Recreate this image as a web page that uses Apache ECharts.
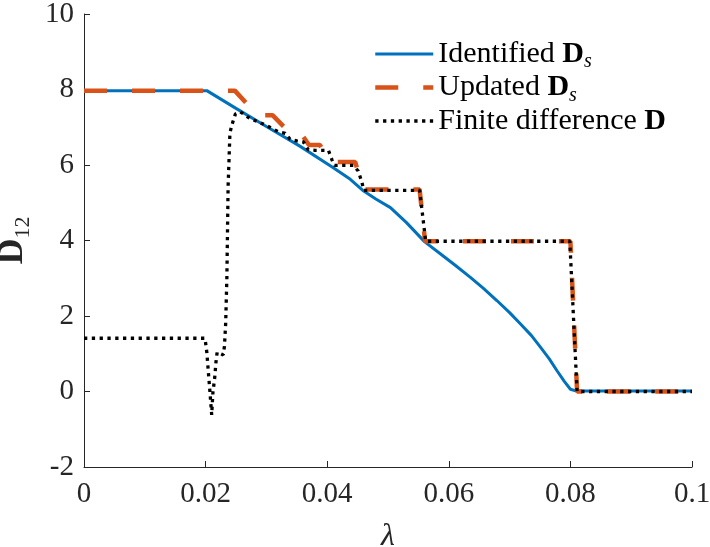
<!DOCTYPE html>
<html><head><meta charset="utf-8">
<script src="https://cdn.jsdelivr.net/npm/echarts@6/dist/echarts.min.js"></script>
<style>html,body{margin:0;padding:0;background:#fff}#c{width:710px;height:547px}</style>
</head><body><div id="c"></div>
<script>
// Identified D_s (blue)
const idLam = [0, 0.0202, 0.025, 0.030, 0.0355, 0.041, 0.0438, 0.046, 0.048, 0.0504, 0.053, 0.056, 0.0586, 0.061, 0.0635, 0.0657, 0.0679, 0.070, 0.0718, 0.0736, 0.0751, 0.0765, 0.0778, 0.079, 0.080, 0.081, 0.1];
const idVal = [7.97, 7.97, 7.50, 7.02, 6.50, 5.93, 5.62, 5.31, 5.10, 4.87, 4.48, 3.97, 3.65, 3.35, 3.03, 2.73, 2.41, 2.09, 1.79, 1.48, 1.17, 0.87, 0.55, 0.27, 0.06, 0.01, 0.01];
// Updated D_s (orange dashed)
const updLam = [0, 0.0248, 0.0285, 0.0310, 0.0337, 0.0355, 0.0370, 0.0388, 0.0405, 0.0446, 0.0460, 0.0552, 0.0561, 0.0800, 0.0811, 0.1];
const updVal = [7.97, 7.97, 7.32, 7.32, 6.88, 6.88, 6.53, 6.53, 6.08, 6.08, 5.35, 5.35, 3.98, 3.98, 0.0, 0.0];
// Finite difference D (black dotted)
const fdLam = [0, 0.0199, 0.0202, 0.0205, 0.0207, 0.0210, 0.0212, 0.0215, 0.0217, 0.0219, 0.0222, 0.0229, 0.0231, 0.0233, 0.0235, 0.0237, 0.0240, 0.0243, 0.0249, 0.0257, 0.0273, 0.0287, 0.0298, 0.0309, 0.0320, 0.0331, 0.0339, 0.0350, 0.0361, 0.0369, 0.0380, 0.0402, 0.0408, 0.0412, 0.0443, 0.0451, 0.0457, 0.0460, 0.0552, 0.0562, 0.0799, 0.0811, 0.1];
const fdVal = [1.41, 1.41, 1.04, 0.42, 0.02, -0.62, -0.03, 0.37, 0.77, 1.04, 1.08, 0.97, 1.20, 1.80, 3.03, 5.42, 6.84, 7.05, 7.35, 7.41, 7.23, 7.14, 7.06, 6.97, 6.88, 6.84, 6.68, 6.64, 6.61, 6.40, 6.39, 6.39, 6.13, 5.99, 5.99, 5.84, 5.55, 5.33, 5.33, 3.98, 3.98, 0.0, 0.0];

const seriesNames = ['Identified Ds', 'Updated Ds', 'Finite difference D'];
const legendTexts = ['{r|Identified }{b|D}{s|s}', '{r|Updated }{b|D}{s|s}', '{r|Finite difference }{b|D}'];
const xTicks = [0, 0.02, 0.04, 0.06, 0.08, 0.1];
const xTickLabels = ['0', '0.02', '0.04', '0.06', '0.08', '0.1'];
const yTicks = [-2, 0, 2, 4, 6, 8, 10];
const yTickLabels = ['-2', '0', '2', '4', '6', '8', '10'];

const FONT = 'Liberation Serif';
const AX = '#262626';
const pairs = (a, b) => a.map((v, i) => [v, b[i]]);
const lab = (ticks, labels) => v => { const i = ticks.findIndex(t => Math.abs(t - v) < 1e-9); return i >= 0 ? labels[i] : ''; };

const chart = echarts.init(document.getElementById('c'), null, {renderer: 'canvas'});
chart.setOption({
  animation: false,
  backgroundColor: '#fff',
  grid: {left: 84, right: 18, top: 14, bottom: 80, containLabel: false, outerBoundsMode: 'none'},
  xAxis: {
    type: 'value', min: 0, max: 0.1, interval: 0.02,
    name: 'λ', nameLocation: 'middle', nameGap: 54,
    nameTextStyle: {fontFamily: FONT, fontStyle: 'italic', fontSize: 32, color: AX},
    axisLine: {show: true, onZero: false, lineStyle: {color: AX, width: 1}},
    axisTick: {show: true, inside: true, length: 6, lineStyle: {color: AX}},
    axisLabel: {formatter: lab(xTicks, xTickLabels), fontFamily: FONT, fontSize: 29, color: AX, margin: 13},
    splitLine: {show: false}
  },
  yAxis: {
    type: 'value', min: -2, max: 10, interval: 2,
    name: '{b|D}{s|12}', nameLocation: 'middle', nameRotate: 90, nameGap: 50,
    nameTextStyle: {
      fontFamily: FONT, color: AX,
      rich: {
        b: {fontFamily: FONT, fontWeight: 'bold', fontSize: 36, lineHeight: 36, verticalAlign: 'top', color: AX},
        s: {fontFamily: FONT, fontSize: 22, lineHeight: 22, padding: [17, 0, 0, 0], verticalAlign: 'top', color: AX}
      }
    },
    axisLine: {show: true, onZero: false, lineStyle: {color: AX, width: 1}},
    axisTick: {show: true, inside: true, length: 6, lineStyle: {color: AX}},
    axisLabel: {formatter: lab(yTicks, yTickLabels), fontFamily: FONT, fontSize: 29, color: AX, margin: 10},
    splitLine: {show: false}
  },
  legend: {
    orient: 'vertical', left: 368, top: 34,
    itemWidth: 58, itemHeight: 14, itemGap: 0.5,
    data: seriesNames,
    formatter: name => legendTexts[seriesNames.indexOf(name)],
    lineStyle: {width: 'inherit', type: 'inherit'},
    itemStyle: {color: 'transparent', borderWidth: 0, opacity: 0},
    textStyle: {
      fontFamily: FONT, fontSize: 30, color: '#000',
      rich: {
        r: {fontFamily: FONT, fontSize: 30, lineHeight: 30, verticalAlign: 'top', color: '#000'},
        b: {fontFamily: FONT, fontWeight: 'bold', fontSize: 30, lineHeight: 30, verticalAlign: 'top', color: '#000'},
        s: {fontFamily: FONT, fontStyle: 'italic', fontSize: 20, lineHeight: 20, padding: [13, 0, 0, 0], verticalAlign: 'top', color: '#000'}
      }
    }
  },
  series: [
    {name: seriesNames[0], type: 'line', symbol: 'none', data: pairs(idLam, idVal),
     lineStyle: {color: '#0072BD', width: 3}, itemStyle: {color: '#0072BD'}, z: 2},
    {name: seriesNames[1], type: 'line', symbol: 'none', data: pairs(updLam, updVal),
     lineStyle: {color: '#D95319', width: 4.5, type: [23, 25]}, itemStyle: {color: '#D95319'}, z: 3},
    {name: seriesNames[2], type: 'line', symbol: 'none', data: pairs(fdLam, fdVal),
     lineStyle: {color: '#000', width: 3.3, type: [3.3, 4.5]}, itemStyle: {color: '#000'}, z: 4}
  ]
});
</script></body></html>
